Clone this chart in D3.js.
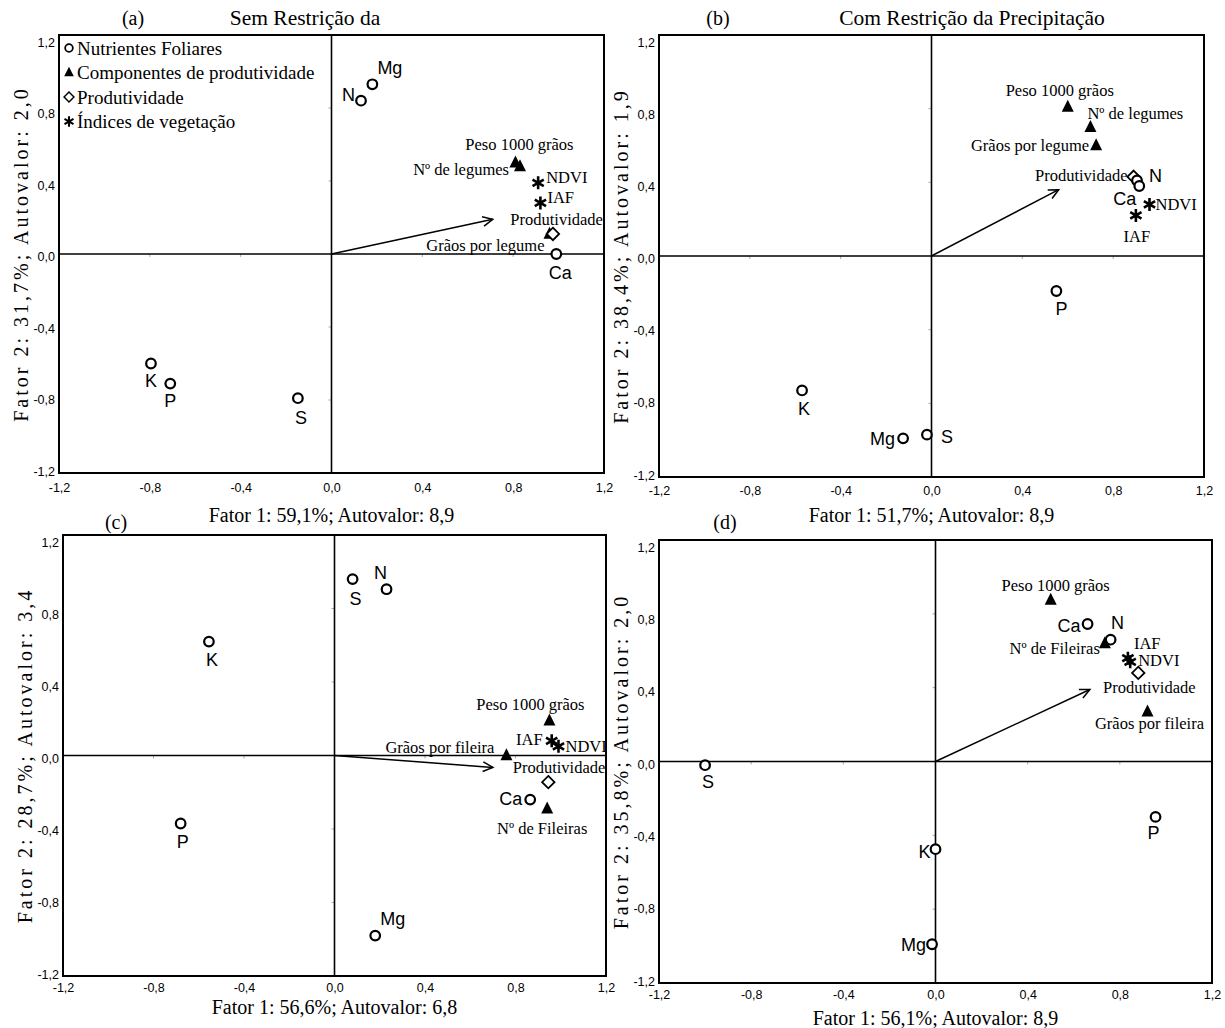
<!DOCTYPE html>
<html>
<head>
<meta charset="utf-8">
<script src="https://cdn.jsdelivr.net/npm/d3@7/dist/d3.min.js"></script>
<style>
  html, body { margin: 0; padding: 0; background: #fff; }
  svg { display: block; }
  .serif { font-family: "Liberation Serif", "Times New Roman", serif; }
  .sans { font-family: "Liberation Sans", Arial, sans-serif; }
</style>
</head>
<body>
<svg id="chart" width="1225" height="1028"></svg>
<script>
// ---------------- DATA ----------------
const tickValues = [-1.2, -0.8, -0.4, 0, 0.4, 0.8, 1.2];
const tickLabels = ["-1,2", "-0,8", "-0,4", "0,0", "0,4", "0,8", "1,2"];

const legendLabels = ["Nutrientes Foliares", "Componentes de produtividade", "Produtividade", "Índices de vegetação"];
const legendGroups = ["nut", "comp", "prod", "veg"];

// Panel (a)
const aNames  = ["N", "Mg", "K", "P", "S", "Ca", "Peso 1000 grãos", "Nº de legumes", "Grãos por legume", "Produtividade", "NDVI", "IAF"];
const aGroups = ["nut", "nut", "nut", "nut", "nut", "nut", "comp", "comp", "comp", "prod", "veg", "veg"];
const aX = [0.13, 0.18, -0.795, -0.71, -0.148, 0.99, 0.81, 0.83, 0.96, 0.975, 0.91, 0.92];
const aY = [0.84, 0.93, -0.60, -0.71, -0.79, 0.0, 0.50, 0.48, 0.11, 0.11, 0.39, 0.28];
const aArrow = [0.71, 0.19];
const aXTitle = "Fator 1: 59,1%; Autovalor: 8,9";
const aYTitle = "Fator 2: 31,7%; Autovalor: 2,0";

// Panel (b)
const bNames  = ["Peso 1000 grãos", "Nº de legumes", "Grãos por legume", "Produtividade", "N", "Ca", "NDVI", "IAF", "P", "K", "Mg", "S"];
const bGroups = ["comp", "comp", "comp", "prod", "nut", "nut", "veg", "veg", "nut", "nut", "nut", "nut"];
const bX = [0.60, 0.70, 0.725, 0.89, 0.905, 0.915, 0.96, 0.90, 0.55, -0.57, -0.125, -0.02];
const bY = [0.81, 0.70, 0.60, 0.43, 0.41, 0.38, 0.28, 0.22, -0.19, -0.73, -0.99, -0.97];
const bArrow = [0.56, 0.36];
const bXTitle = "Fator 1: 51,7%; Autovalor: 8,9";
const bYTitle = "Fator 2: 38,4%; Autovalor: 1,9";

// Panel (c)
const cNames  = ["S", "N", "K", "P", "Mg", "Ca", "Peso 1000 grãos", "IAF", "NDVI", "Grãos por fileira", "Produtividade", "Nº de Fileiras"];
const cGroups = ["nut", "nut", "nut", "nut", "nut", "nut", "comp", "veg", "veg", "comp", "prod", "comp"];
const cX = [0.08, 0.23, -0.555, -0.68, 0.18, 0.865, 0.95, 0.96, 0.99, 0.76, 0.945, 0.94];
const cY = [0.96, 0.905, 0.62, -0.37, -0.98, -0.24, 0.19, 0.08, 0.05, 0.0, -0.145, -0.29];
const cArrow = [0.70, -0.065];
const cXTitle = "Fator 1: 56,6%; Autovalor: 6,8";
const cYTitle = "Fator 2: 28,7%; Autovalor: 3,4";

// Panel (d)
const dNames  = ["Peso 1000 grãos", "Ca", "N", "Nº de Fileiras", "IAF", "NDVI", "Produtividade", "Grãos por fileira", "S", "P", "K", "Mg"];
const dGroups = ["comp", "nut", "nut", "comp", "veg", "veg", "prod", "comp", "nut", "nut", "nut", "nut"];
const dX = [0.50, 0.66, 0.76, 0.735, 0.835, 0.845, 0.88, 0.92, -1.0, 0.955, 0.0, -0.015];
const dY = [0.875, 0.745, 0.66, 0.64, 0.56, 0.54, 0.48, 0.27, -0.02, -0.30, -0.475, -0.99];
const dArrow = [0.67, 0.39];
const dXTitle = "Fator 1: 56,1%; Autovalor: 8,9";
const dYTitle = "Fator 2: 35,8%; Autovalor: 2,0";

// ---------------- LAYOUT (positions / label placement) ----------------
// label placement per point: [anchor, dx, dy]
const aPlace = [["end",-6,-6],["start",5,-16],["middle",0,17],["middle",0,17],["middle",3,20],["middle",4,19],
                ["middle",4,-18],["end",-11,3],["end",-5,12],["end",50,-14],["start",8,-5],["start",7,-5]];
const bPlace = [["middle",-8,-16],["start",-3,-14],["end",-7,0],["end",-6,-1],["start",12,-4],["end",-3,13],
                ["start",6,0],["middle",1,21],["middle",5,18],["middle",2,19],["end",-8,1],["start",14,2]];
const cPlace = [["middle",3,20],["middle",-6,-16],["middle",3,18],["middle",2,19],["start",5,-17],["end",-8,-1],
                ["middle",-19,-16],["end",-9,-1],["start",7,0],["end",-12,-8],["end",57,-15],["middle",-5,20]];
const dPlace = [["middle",5,-14],["end",-7,2],["middle",7,-17],["end",-5,5],["start",6,-15],["start",8,-1],
                ["middle",11,15],["middle",2,12],["middle",3,17],["middle",-2,16],["end",-5,3],["end",-6,1]];

const panels = [
  { id:"(a)", title:"Sem Restrição da", names:aNames, groups:aGroups, xs:aX, ys:aY, arrow:aArrow, place:aPlace,
    xTitle:aXTitle, yTitle:aYTitle, box:[59,604,35,473], idPos:[133,25], titlePos:[305,25], xtY:522, pad:10, legend:true },
  { id:"(b)", title:"Com Restrição da Precipitação", names:bNames, groups:bGroups, xs:bX, ys:bY, arrow:bArrow, place:bPlace,
    xTitle:bXTitle, yTitle:bYTitle, box:[659,1204,35,477], idPos:[718,25], titlePos:[972,25], xtY:522, pad:9, legend:false },
  { id:"(c)", title:"", names:cNames, groups:cGroups, xs:cX, ys:cY, arrow:cArrow, place:cPlace,
    xTitle:cXTitle, yTitle:cYTitle, box:[63,606,535,976], idPos:[116,529], titlePos:[0,0], xtY:1014, pad:7, legend:false },
  { id:"(d)", title:"", names:dNames, groups:dGroups, xs:dX, ys:dY, arrow:dArrow, place:dPlace,
    xTitle:dXTitle, yTitle:dYTitle, box:[659,1212,540,983], idPos:[725,529], titlePos:[0,0], xtY:1025, pad:7, legend:false }
];

// ---------------- DRAW ----------------
const svg = d3.select("#chart");

function drawMarker(g, group, x, y, s) {
  s = s || 1;
  if (group === "nut") {
    g.append("circle").attr("cx", x).attr("cy", y).attr("r", 4.8 * s)
      .attr("fill", "#fff").attr("stroke", "#000").attr("stroke-width", 2.2 * s);
  } else if (group === "comp") {
    const h = 12 * s, w = 12 * s;
    g.append("path").attr("d", `M${x},${y - h * 0.6} L${x + w / 2},${y + h * 0.4} L${x - w / 2},${y + h * 0.4} Z`)
      .attr("fill", "#000");
  } else if (group === "prod") {
    const r = 6.2 * s;
    g.append("path").attr("d", `M${x},${y - r} L${x + r},${y} L${x},${y + r} L${x - r},${y} Z`)
      .attr("fill", "#fff").attr("stroke", "#000").attr("stroke-width", 1.8 * s);
  } else if (group === "veg") {
    const r = 6.5 * s;
    const p = d3.path();
    p.moveTo(x, y - r); p.lineTo(x, y + r);
    const c = Math.cos(Math.PI / 6) * r, sn = Math.sin(Math.PI / 6) * r;
    p.moveTo(x - c, y - sn); p.lineTo(x + c, y + sn);
    p.moveTo(x - c, y + sn); p.lineTo(x + c, y - sn);
    g.append("path").attr("d", p.toString()).attr("stroke", "#000").attr("stroke-width", 2.6 * s).attr("fill", "none");
  }
}

panels.forEach(P => {
  const [x0, x1, y0, y1] = P.box;
  const xs = d3.scaleLinear().domain([-1.2, 1.2]).range([x0, x1]);
  const ys = d3.scaleLinear().domain([-1.2, 1.2]).range([y1, y0]);
  const g = svg.append("g");

  // small grey inner ticks
  tickValues.filter(v => Math.abs(v) > 0.01 && Math.abs(v) < 1.1).forEach(v => {
    g.append("line").attr("x1", xs(v)).attr("x2", xs(v)).attr("y1", ys(0)).attr("y2", ys(0) + 3)
      .attr("stroke", "#aaa").attr("stroke-width", 1);
    g.append("line").attr("x1", xs(0) - 3).attr("x2", xs(0)).attr("y1", ys(v)).attr("y2", ys(v))
      .attr("stroke", "#aaa").attr("stroke-width", 1);
  });

  // zero lines
  g.append("line").attr("x1", x0).attr("x2", x1).attr("y1", ys(0)).attr("y2", ys(0))
    .attr("stroke", "#000").attr("stroke-width", 1.6);
  g.append("line").attr("x1", xs(0)).attr("x2", xs(0)).attr("y1", y0).attr("y2", y1)
    .attr("stroke", "#000").attr("stroke-width", 1.6);

  // frame
  g.append("rect").attr("x", x0).attr("y", y0).attr("width", x1 - x0).attr("height", y1 - y0)
    .attr("fill", "none").attr("stroke", "#000").attr("stroke-width", 2);

  // axes tick labels (using d3 axes, no tick lines)
  const fmt = v => tickLabels[tickValues.findIndex(t => Math.abs(t - v) < 1e-9)];
  const xAxis = d3.axisBottom(xs).tickValues(tickValues).tickFormat(fmt).tickSize(0).tickPadding(P.pad);
  const yAxis = d3.axisLeft(ys).tickValues(tickValues).tickFormat(fmt).tickSize(0).tickPadding(4);
  const gx = g.append("g").attr("transform", `translate(0,${y1})`).call(xAxis);
  const gy = g.append("g").attr("transform", `translate(${x0},0)`).call(yAxis);
  [gx, gy].forEach(a => {
    a.select(".domain").remove();
    a.selectAll("text").attr("fill", "#000").style("font-size", "12.5px")
      .style("font-family", "'Liberation Sans Narrow','Liberation Sans',Arial,sans-serif");
  });
  gy.selectAll("text").attr("dy", null).attr("dominant-baseline", "central")
    .attr("y", d => 2.5 + 3.75 * d);

  // arrow
  const ax = xs(P.arrow[0]), ay = ys(P.arrow[1]);
  const ox = xs(0), oy = ys(0);
  g.append("line").attr("x1", ox).attr("y1", oy).attr("x2", ax).attr("y2", ay)
    .attr("stroke", "#000").attr("stroke-width", 1.5);
  const ang = Math.atan2(ay - oy, ax - ox);
  const hl = 11, ha = Math.PI / 7;
  const hp = d3.path();
  hp.moveTo(ax - hl * Math.cos(ang - ha), ay - hl * Math.sin(ang - ha));
  hp.lineTo(ax, ay);
  hp.lineTo(ax - hl * Math.cos(ang + ha), ay - hl * Math.sin(ang + ha));
  g.append("path").attr("d", hp.toString()).attr("fill", "none").attr("stroke", "#000").attr("stroke-width", 1.5);

  // points and labels
  P.names.forEach((name, i) => {
    const px = xs(P.xs[i]), py = ys(P.ys[i]);
    drawMarker(g, P.groups[i], px, py);
    const [anchor, dx, dy] = P.place[i];
    const isNut = P.groups[i] === "nut";
    g.append("text").attr("x", px + dx).attr("y", py + dy)
      .attr("text-anchor", anchor).attr("dominant-baseline", "central")
      .attr("class", isNut ? "sans" : "serif")
      .style("font-size", isNut ? "18px" : "16.5px")
      .text(name);
  });

  // axis titles
  g.append("text").attr("class", "serif").attr("x", (x0 + x1) / 2).attr("y", P.xtY)
    .attr("text-anchor", "middle").style("font-size", "20px").text(P.xTitle);
  const ytx = x0 - 38, yty = (y0 + y1) / 2;
  g.append("text").attr("class", "serif").attr("transform", `translate(${ytx},${yty}) rotate(-90)`)
    .attr("text-anchor", "middle").attr("dominant-baseline", "central")
    .style("font-size", "20px").style("letter-spacing", "3px").text(P.yTitle);

  // panel id and title
  g.append("text").attr("class", "serif").attr("x", P.idPos[0]).attr("y", P.idPos[1])
    .attr("text-anchor", "middle").style("font-size", "20px").text(P.id);
  if (P.title) {
    g.append("text").attr("class", "serif").attr("x", P.titlePos[0]).attr("y", P.titlePos[1])
      .attr("text-anchor", "middle").style("font-size", "21.5px").text(P.title);
  }

  // legend
  if (P.legend) {
    legendLabels.forEach((lab, i) => {
      const ly = y0 + 13 + i * 24.5;
      drawMarker(g, legendGroups[i], x0 + 10, ly, 0.8);
      g.append("text").attr("class", "serif").attr("x", x0 + 18).attr("y", ly)
        .attr("dominant-baseline", "central").style("font-size", "19px").text(lab);
    });
  }
});
</script>
</body>
</html>
